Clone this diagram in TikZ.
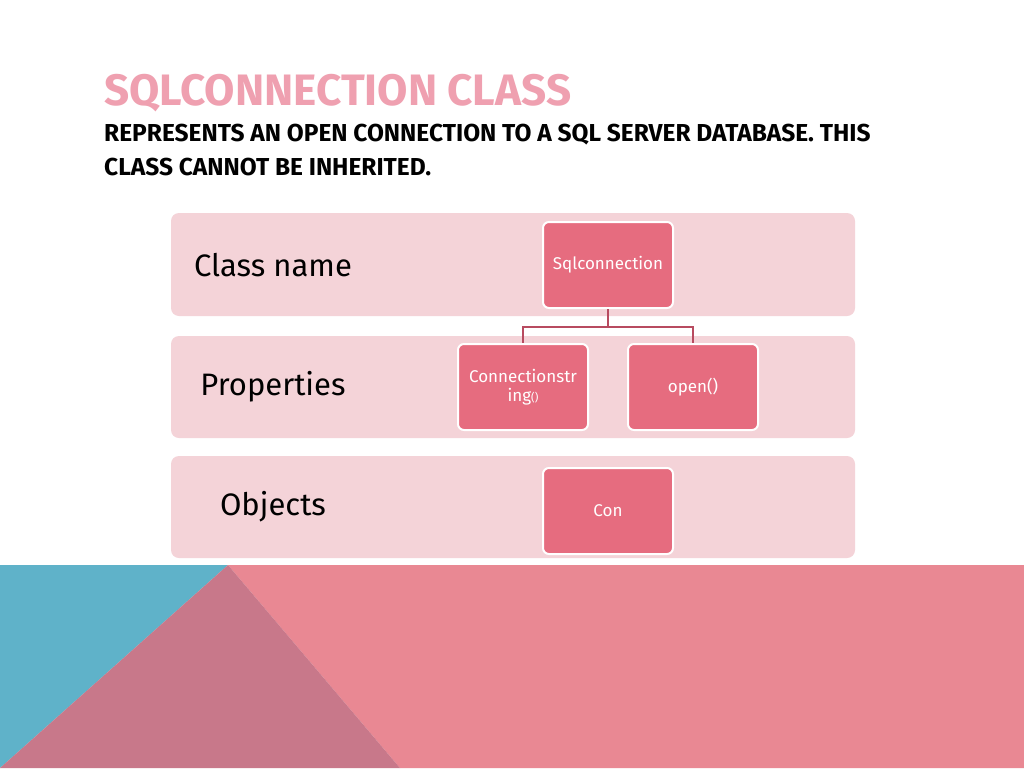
\documentclass[tikz,border=0pt]{standalone}
\usepackage{fontspec}
\setmainfont{Fira Sans}
\begin{document}
\begin{tikzpicture}[x=1pt,y=-1pt,
 band/.style={fill=bandc,rounded corners=8pt},
 cbox/.style={draw=white,line width=2pt,fill=boxc,rounded corners=6pt,minimum width=130pt,minimum height=86pt,text=white,font=\fontsize{17}{19}\selectfont,align=center,inner sep=2pt},
 lab/.style={font=\fontsize{31}{33}\selectfont,text=black},
 conn/.style={draw=linec,line width=2pt}]
\definecolor{bandc}{HTML}{F4D3D8}
\definecolor{boxc}{HTML}{E66C7F}
\definecolor{linec}{HTML}{B84B60}
\definecolor{titc}{HTML}{EFA0B0}
\definecolor{bluec}{HTML}{5FB2C9}
\definecolor{mauvec}{HTML}{C8788A}
\definecolor{pinkc}{HTML}{E98893}
\useasboundingbox (0,0) rectangle (1024,768);
\fill[white] (0,0) rectangle (1024,768);
\fill[pinkc] (228,565) -- (1024,565) -- (1024,768) -- (400,768) -- cycle;
\fill[bluec] (0,565) -- (228,565) -- (0,768) -- cycle;
\fill[mauvec] (228,565) -- (400,768) -- (0,768) -- cycle;
\node[anchor=base west,text=titc,inner sep=0,font=\bfseries\fontsize{44}{44}\selectfont] (title) at (104,105) {SQLCONNECTION CLASS};
\node[anchor=base west,inner sep=0,font=\bfseries\fontsize{24.5}{25}\selectfont] (sub1) at (104,141) {REPRESENTS AN OPEN CONNECTION TO A SQL SERVER DATABASE. THIS};
\node[anchor=base west,inner sep=0,font=\bfseries\fontsize{24.5}{25}\selectfont] (sub2) at (104,175) {CLASS CANNOT BE INHERITED.};
\fill[band] (171,213) rectangle (855,316);
\fill[band] (171,336) rectangle (855,438);
\fill[band] (171,456) rectangle (855,558);
\node[lab] (l1) at (273,265) {Class name};
\node[lab] (l2) at (273,387) {Properties};
\node[lab] (l3) at (273,507) {Objects};
\node[cbox] (sql) at (608,265) {Sqlconnection};
\node[cbox] (cs) at (523,387) {Connectionstr\\ing{\fontsize{11}{11}\selectfont()}};
\node[cbox] (op) at (693,387) {open()};
\node[cbox] (con) at (608,511) {Con};
\draw[conn] (sql.south) -- ++(0,18) -| (cs.north);
\draw[conn] (sql.south) -- ++(0,18) -| (op.north);
\end{tikzpicture}
\end{document}
